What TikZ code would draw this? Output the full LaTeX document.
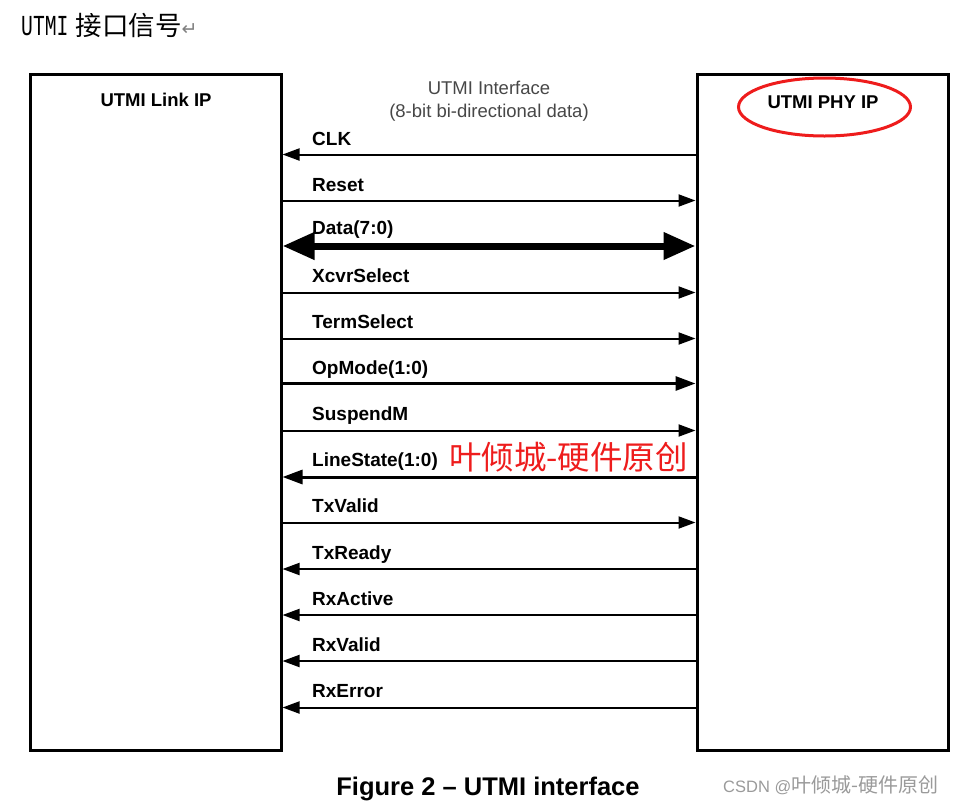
\documentclass[tikz,border=0pt]{standalone}
\usepackage{fontspec}
\usepackage{graphicx}
\setmainfont{Liberation Sans}
\newfontfamily\cjk{Noto Sans CJK SC}
\newfontfamily\titlemono{Liberation Mono}
\newfontfamily\symb{DejaVu Sans}
\usepackage{tikz}
\usetikzlibrary{arrows.meta,shapes.geometric}
\definecolor{markred}{HTML}{EE1C1C}
\definecolor{notegray}{HTML}{9A9A9A}

\begin{document}
\begin{tikzpicture}[x=1pt, y=-1pt, every node/.style={inner sep=0pt},
  ipbox/.style={draw, line width=3pt, minimum width=251pt, minimum height=676pt},
  iptitle/.style={font=\bfseries\fontsize{18.5}{21}\selectfont},
  siglabel/.style={anchor=base west, font=\bfseries\fontsize{19}{22}\selectfont},
  sig/.style={line width=2pt, -{Triangle[length=17pt,width=12pt]}},
  sigbus/.style={line width=3pt, -{Triangle[length=20pt,width=14pt]}},
  databus/.style={line width=7pt, {Triangle[length=32pt,width=26pt]}-{Triangle[length=32pt,width=26pt]}}]
  \useasboundingbox (0,0) rectangle (956,804);

  % heading line above the figure
  \node[anchor=base west] (heading) at (21,35) {\scalebox{0.68}[1]{\titlemono\fontsize{29}{30}\selectfont UTMI}\hspace{7pt}{\cjk\fontsize{26.5}{28}\selectfont 接口信号}\textcolor{gray}{\symb\fontsize{19}{20}\selectfont ↵}};

  % the two blocks
  \node[ipbox] (link) at (155.5,412.5) {};
  \node[ipbox] (phy) at (822.5,412.5) {};
  \node[iptitle] (linktitle) at (156,100) {UTMI Link IP};
  \node[iptitle] (phytitle) at (823,102) {UTMI PHY IP};
  \node[draw=markred, line width=3pt, ellipse, minimum width=172pt, minimum height=58pt] (phymark) at (824.5,107) {};

  \node[font=\fontsize{18.5}{21}\selectfont, text=black!72, align=center] (iftitle) at (489,101) {UTMI Interface\\[1.5pt](8-bit bi-directional data)};

  % signals
  \node[siglabel] (clk) at (312,145) {CLK};
  \node[siglabel] (reset) at (312,191) {Reset};
  \node[siglabel] (data) at (312,234) {Data(7:0)};
  \node[siglabel] (xcvr) at (312,282) {XcvrSelect};
  \node[siglabel] (term) at (312,328) {TermSelect};
  \node[siglabel] (opmode) at (312,374) {OpMode(1:0)};
  \node[siglabel] (suspend) at (312,420) {SuspendM};
  \node[siglabel] (linestate) at (312,466) {LineState(1:0)};
  \node[siglabel] (txvalid) at (312,512) {TxValid};
  \node[siglabel] (txready) at (312,559) {TxReady};
  \node[siglabel] (rxactive) at (312,605) {RxActive};
  \node[siglabel] (rxvalid) at (312,651) {RxValid};
  \node[siglabel] (rxerror) at (312,697) {RxError};

  \draw[sig] (phy.west |- 0,154.5) -- (link.east |- 0,154.5);
  \draw[sig] (link.east |- 0,200.5) -- (phy.west |- 0,200.5);
  \draw[databus] (link.east |- 0,246) -- (phy.west |- 0,246);
  \draw[sig] (link.east |- 0,292.5) -- (phy.west |- 0,292.5);
  \draw[sig] (link.east |- 0,338.5) -- (phy.west |- 0,338.5);
  \draw[sigbus] (link.east |- 0,383.5) -- (phy.west |- 0,383.5);
  \draw[sig] (link.east |- 0,430.5) -- (phy.west |- 0,430.5);
  \draw[sigbus] (phy.west |- 0,477) -- (link.east |- 0,477);
  \draw[sig] (link.east |- 0,522.5) -- (phy.west |- 0,522.5);
  \draw[sig] (phy.west |- 0,569) -- (link.east |- 0,569);
  \draw[sig] (phy.west |- 0,615) -- (link.east |- 0,615);
  \draw[sig] (phy.west |- 0,661) -- (link.east |- 0,661);
  \draw[sig] (phy.west |- 0,707.5) -- (link.east |- 0,707.5);

  \node[anchor=west, text=markred, font=\cjk\fontsize{32.5}{34}\selectfont] (stamp) at (449,457) {叶倾城-硬件原创};

  % caption and watermark
  \node[anchor=base, font=\bfseries\fontsize{25.5}{28}\selectfont] (caption) at (488,795) {Figure 2 – UTMI interface};
  \node[anchor=base west, text=notegray, font=\fontsize{16.5}{18}\selectfont] (mark) at (723,792) {CSDN @{\cjk\fontsize{20}{20}\selectfont 叶倾城-硬件原创}};
\end{tikzpicture}
\end{document}
